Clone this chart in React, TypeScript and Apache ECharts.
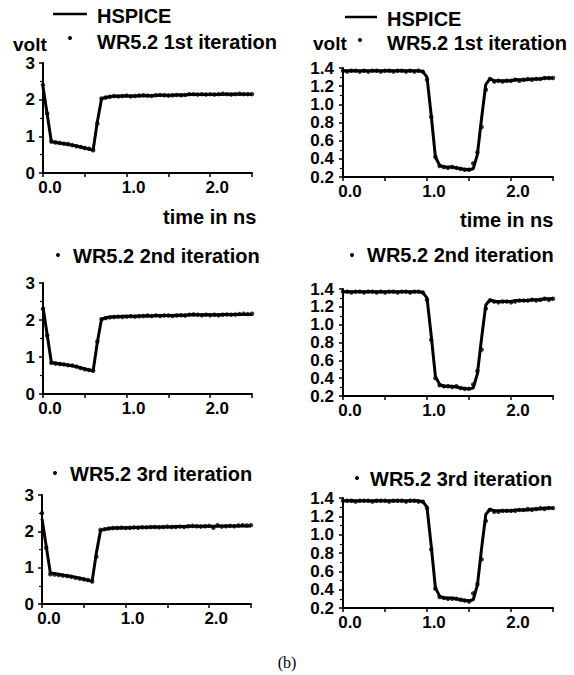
import React, { useEffect, useRef } from "react";
import * as echarts from "echarts";

// time in ns
const T = [0, 0.05, 0.1, 0.15, 0.2, 0.25, 0.3, 0.35, 0.4, 0.45, 0.5, 0.55, 0.6, 0.65, 0.7, 0.75, 0.8, 0.85, 0.9, 0.95, 1.0, 1.05, 1.1, 1.15, 1.2, 1.25, 1.3, 1.35, 1.4, 1.45, 1.5, 1.55, 1.6, 1.65, 1.7, 1.75, 1.8, 1.85, 1.9, 1.95, 2.0, 2.05, 2.1, 2.15, 2.2, 2.25, 2.3, 2.35, 2.4, 2.45, 2.5];

// left column (volt)
const hspiceLeft = [2.35, 1.6, 0.85, 0.84, 0.82, 0.8, 0.78, 0.76, 0.74, 0.71, 0.68, 0.65, 0.63, 1.4, 2.02, 2.06, 2.08, 2.09, 2.09, 2.1, 2.1, 2.1, 2.1, 2.11, 2.11, 2.11, 2.11, 2.12, 2.12, 2.12, 2.12, 2.12, 2.13, 2.13, 2.13, 2.14, 2.14, 2.14, 2.14, 2.14, 2.14, 2.14, 2.14, 2.15, 2.15, 2.15, 2.15, 2.15, 2.15, 2.15, 2.15];
const wr1Left = [2.4, 1.62, 0.86, 0.83, 0.82, 0.8, 0.79, 0.76, 0.73, 0.71, 0.68, 0.66, 0.62, 1.35, 2.03, 2.06, 2.08, 2.1, 2.09, 2.1, 2.11, 2.09, 2.1, 2.11, 2.12, 2.11, 2.1, 2.12, 2.13, 2.12, 2.11, 2.12, 2.13, 2.12, 2.13, 2.15, 2.15, 2.14, 2.15, 2.14, 2.15, 2.14, 2.15, 2.16, 2.15, 2.14, 2.15, 2.16, 2.15, 2.15, 2.15];
const wr2Left = [2.3, 1.58, 0.84, 0.82, 0.81, 0.8, 0.78, 0.77, 0.74, 0.7, 0.67, 0.65, 0.63, 1.42, 2.02, 2.05, 2.07, 2.08, 2.09, 2.08, 2.09, 2.1, 2.09, 2.1, 2.11, 2.12, 2.11, 2.12, 2.11, 2.12, 2.12, 2.11, 2.12, 2.13, 2.12, 2.14, 2.15, 2.14, 2.13, 2.14, 2.13, 2.14, 2.13, 2.14, 2.15, 2.14, 2.15, 2.16, 2.17, 2.16, 2.17];
const wr3Left = [2.5, 1.55, 0.82, 0.81, 0.8, 0.78, 0.77, 0.75, 0.72, 0.7, 0.68, 0.66, 0.62, 1.3, 2.04, 2.06, 2.08, 2.09, 2.09, 2.1, 2.09, 2.1, 2.11, 2.1, 2.11, 2.11, 2.12, 2.12, 2.11, 2.12, 2.13, 2.12, 2.12, 2.13, 2.12, 2.14, 2.15, 2.14, 2.13, 2.14, 2.15, 2.1, 2.17, 2.13, 2.14, 2.15, 2.14, 2.16, 2.17, 2.16, 2.17];

// right column (volt)
const hspiceRight = [1.37, 1.37, 1.37, 1.37, 1.37, 1.37, 1.37, 1.37, 1.37, 1.37, 1.37, 1.37, 1.37, 1.37, 1.37, 1.37, 1.37, 1.37, 1.37, 1.36, 1.3, 0.88, 0.42, 0.33, 0.31, 0.31, 0.31, 0.3, 0.29, 0.285, 0.28, 0.29, 0.45, 0.85, 1.22, 1.28, 1.26, 1.26, 1.26, 1.26, 1.26, 1.27, 1.27, 1.27, 1.27, 1.28, 1.28, 1.28, 1.29, 1.29, 1.29];
const wr1Right = [1.37, 1.36, 1.37, 1.37, 1.36, 1.37, 1.36, 1.37, 1.37, 1.36, 1.37, 1.37, 1.36, 1.37, 1.37, 1.36, 1.37, 1.36, 1.37, 1.36, 1.27, 0.86, 0.42, 0.32, 0.31, 0.3, 0.31, 0.3, 0.29, 0.28, 0.28, 0.35, 0.47, 0.75, 1.16, 1.28, 1.25, 1.26, 1.25, 1.26, 1.26, 1.27, 1.26, 1.27, 1.28, 1.27, 1.28, 1.28, 1.29, 1.29, 1.29];
const wr2Right = [1.37, 1.37, 1.36, 1.37, 1.37, 1.36, 1.37, 1.37, 1.36, 1.37, 1.36, 1.37, 1.37, 1.36, 1.37, 1.37, 1.36, 1.37, 1.37, 1.36, 1.28, 0.83, 0.4, 0.32, 0.31, 0.31, 0.3, 0.31, 0.29, 0.28, 0.28, 0.33, 0.48, 0.72, 1.18, 1.27, 1.26, 1.25, 1.26, 1.26, 1.25, 1.26, 1.27, 1.27, 1.27, 1.28, 1.27, 1.28, 1.29, 1.28, 1.29];
const wr3Right = [1.37, 1.37, 1.37, 1.36, 1.37, 1.37, 1.37, 1.36, 1.37, 1.37, 1.37, 1.36, 1.37, 1.37, 1.37, 1.36, 1.37, 1.37, 1.36, 1.36, 1.29, 0.84, 0.41, 0.32, 0.31, 0.3, 0.3, 0.3, 0.29, 0.28, 0.27, 0.36, 0.46, 0.73, 1.15, 1.27, 1.25, 1.25, 1.26, 1.26, 1.26, 1.26, 1.27, 1.27, 1.28, 1.27, 1.28, 1.29, 1.28, 1.29, 1.29];

const leftTicks = { min: 0, max: 3, interval: 1 };
const rightTicks = { min: 0.2, max: 1.4, interval: 0.2 };
const timeTicks = { min: 0, max: 2.5, interval: 0.5 };

const iterationLabels = ["WR5.2 1st iteration", "WR5.2 2nd iteration", "WR5.2 3rd iteration"];

const grids = [
  { left: 43, top: 63, width: 209, height: 110 },
  { left: 343, top: 68, width: 210, height: 109 },
  { left: 43, top: 283, width: 209, height: 111 },
  { left: 343, top: 289, width: 210, height: 107 },
  { left: 42, top: 495, width: 209, height: 109 },
  { left: 343, top: 498, width: 210, height: 110 },
];

const SANS = "'Liberation Sans', Arial, Helvetica, sans-serif";
const labelFont = { fontFamily: SANS, fontWeight: "bold" as const, fontSize: 17, color: "#000" };

export default function App() {
  const ref = useRef<HTMLDivElement>(null);
  useEffect(() => {
    document.body.style.margin = "0";
    const chart = echarts.init(ref.current!, null, { renderer: "svg" });
    const panels = [
      { h: hspiceLeft, w: wr1Left, left: true },
      { h: hspiceRight, w: wr1Right, left: false },
      { h: hspiceLeft, w: wr2Left, left: true },
      { h: hspiceRight, w: wr2Right, left: false },
      { h: hspiceLeft, w: wr3Left, left: true },
      { h: hspiceRight, w: wr3Right, left: false },
    ];
    const xAxis = panels.map((p, i) => ({
      type: "value",
      gridIndex: i,
      min: timeTicks.min,
      max: timeTicks.max,
      interval: timeTicks.interval,
      axisLine: { onZero: false, lineStyle: { color: "#000", width: 2 } },
      axisTick: { show: true, length: 4, lineStyle: { color: "#000", width: 1.5 } },
      splitLine: { show: false },
      axisLabel: {
        ...labelFont,
        margin: 6,
        padding: [0, 0, 0, 14],
        formatter: (v: number) => (Math.abs(v - Math.round(v)) < 1e-6 ? v.toFixed(1) : ""),
      },
    }));
    const yAxis = panels.map((p, i) => {
      const tk = p.left ? leftTicks : rightTicks;
      return {
        type: "value",
        gridIndex: i,
        min: tk.min,
        max: tk.max,
        interval: tk.interval,
        axisLine: { show: true, lineStyle: { color: "#000", width: 2 } },
        axisTick: { show: true, length: 4, lineStyle: { color: "#000", width: 1.5 } },
        minorTick: { show: true, splitNumber: 2, length: 3, lineStyle: { color: "#000", width: 1.2 } },
        splitLine: { show: false },
        axisLabel: {
          ...labelFont,
          margin: p.left ? 8 : 9,
          formatter: (v: number) => (p.left ? String(Math.round(v)) : v.toFixed(1)),
        },
      };
    });
    const series: any[] = [];
    panels.forEach((p, i) => {
      series.push({
        name: "HSPICE",
        type: "line",
        xAxisIndex: i,
        yAxisIndex: i,
        symbol: "none",
        lineStyle: { color: "#000", width: 3 },
        data: T.map((t, k) => [t, p.h[k]]),
        silent: true,
      });
      series.push({
        name: iterationLabels[Math.floor(i / 2)],
        type: "scatter",
        xAxisIndex: i,
        yAxisIndex: i,
        symbol: "circle",
        symbolSize: 4.5,
        itemStyle: { color: "#000" },
        data: T.map((t, k) => [t, p.w[k]]),
        silent: true,
      });
    });
    const legendFont = `bold 20px ${SANS}`;
    const txt = (text: string, x: number, y: number, font = legendFont) => ({
      type: "text",
      x,
      y,
      style: { text, font, fill: "#000", verticalAlign: "middle", align: "left" },
    });
    const dot = (cx: number, cy: number) => ({
      type: "circle",
      shape: { cx, cy, r: 2 },
      style: { fill: "#000" },
    });
    const seg = (x1: number, x2: number, y: number) => ({
      type: "line",
      shape: { x1, y1: y, x2, y2: y },
      style: { stroke: "#000", lineWidth: 2.5 },
    });
    const smallFont = `bold 19px ${SANS}`;
    const graphic = [
      seg(53, 87, 14),
      txt("HSPICE", 97, 16),
      txt("volt", 13, 44, smallFont),
      dot(70, 38),
      txt(iterationLabels[0], 97, 42),
      txt("time in ns", 163, 217),

      seg(345, 377, 17),
      txt("HSPICE", 387, 19),
      txt("volt", 313, 43, smallFont),
      dot(360, 40),
      txt(iterationLabels[0], 387, 43),
      txt("time in ns", 460, 220),

      dot(58, 255),
      txt(iterationLabels[1], 73, 256),
      dot(352, 255),
      txt(iterationLabels[1], 367, 255),

      dot(55, 473),
      txt(iterationLabels[2], 70, 474),
      dot(357, 478),
      txt(iterationLabels[2], 370, 479),

      {
        type: "text",
        x: 287,
        y: 662,
        style: { text: "(b)", font: "16px 'Liberation Serif', 'Times New Roman', serif", fill: "#000", align: "center", verticalAlign: "middle" },
      },
    ];
    chart.setOption({
      animation: false,
      backgroundColor: "#fff",
      grid: grids,
      xAxis,
      yAxis,
      series,
      graphic,
    });
    return () => chart.dispose();
  }, []);
  return <div ref={ref} style={{ width: 574, height: 675 }} />;
}
